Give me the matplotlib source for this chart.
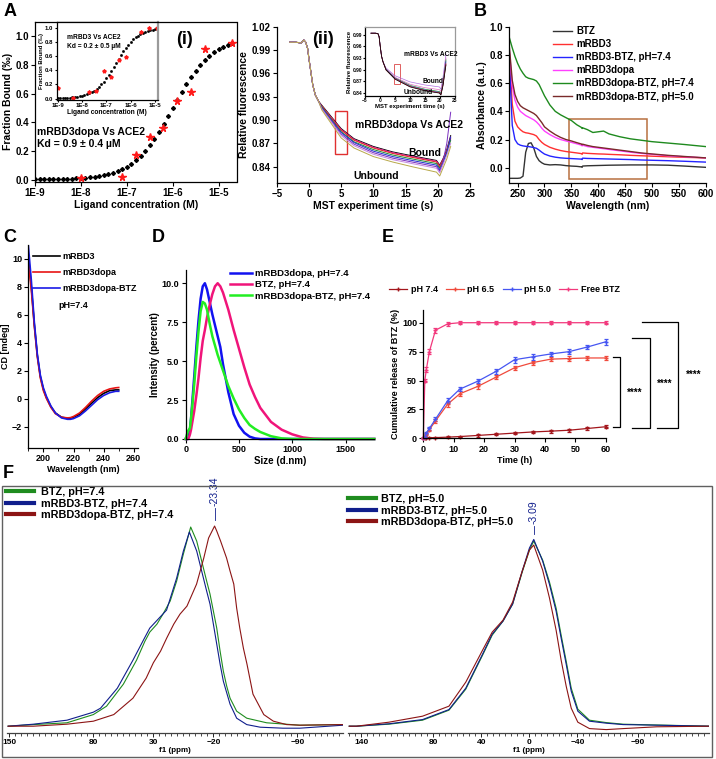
#!/usr/bin/env python3
"""Six-panel figure: MST binding (A), UV-vis (B), CD (C), DLS (D), release (E), 11B NMR (F)."""
import numpy as np
import matplotlib
matplotlib.use("Agg")
import matplotlib.pyplot as plt
from matplotlib.lines import Line2D
from matplotlib.patches import Rectangle
from matplotlib.ticker import FixedLocator, MultipleLocator, NullLocator, FormatStrFormatter

W, H = 716, 759

plt.rcParams.update({
    "font.family": ["Liberation Sans", "DejaVu Sans"],
    "font.weight": "bold",
    "axes.labelweight": "bold",
    "axes.linewidth": 0.9,
    "xtick.direction": "out",
    "ytick.direction": "out",
    "xtick.major.size": 3,
    "ytick.major.size": 3,
    "xtick.major.width": 0.8,
    "ytick.major.width": 0.8,
    "xtick.major.pad": 1.5,
    "ytick.major.pad": 1.5,
    "axes.labelpad": 1.5,
})

# ---------------- data ----------------
# A(i) main: mRBD3dopa vs ACE2 (log10 concentration)
A_FIT_EXP = [-9.0, -8.9, -8.8, -8.7, -8.6, -8.5, -8.4, -8.3, -8.2, -8.1, -8.0, -7.9, -7.8,
             -7.7, -7.6, -7.5, -7.4, -7.3, -7.2, -7.1, -7.0, -6.9, -6.8, -6.7, -6.6, -6.5,
             -6.4, -6.3, -6.2, -6.1, -6.0, -5.9, -5.8, -5.7, -5.6, -5.5, -5.4, -5.3, -5.2,
             -5.1, -5.0, -4.9, -4.8, -4.7]
A_FIT_Y = [0.001, 0.001, 0.002, 0.002, 0.003, 0.003, 0.004, 0.005, 0.006, 0.008, 0.010,
           0.012, 0.016, 0.020, 0.025, 0.031, 0.038, 0.048, 0.059, 0.074, 0.091, 0.112,
           0.137, 0.166, 0.201, 0.240, 0.285, 0.334, 0.387, 0.443, 0.500, 0.557, 0.613,
           0.666, 0.715, 0.760, 0.799, 0.834, 0.863, 0.888, 0.909, 0.926, 0.941, 0.952]
A_PTS_EXP = [-8.0, -7.1, -6.81, -6.5, -6.21, -5.9, -5.6, -5.29, -4.7]
A_PTS_Y = [0.01, 0.02, 0.17, 0.30, 0.36, 0.55, 0.61, 0.91, 0.95]

# A(i) inset: mRBD3 vs ACE2
AI_FIT_EXP = [-9.0, -8.9, -8.8, -8.7, -8.6, -8.5, -8.4, -8.3, -8.2, -8.1, -8.0, -7.9, -7.8,
              -7.7, -7.6, -7.5, -7.4, -7.3, -7.2, -7.1, -7.0, -6.9, -6.8, -6.7, -6.6, -6.5,
              -6.4, -6.3, -6.2, -6.1, -6.0, -5.9, -5.8, -5.7, -5.6, -5.5, -5.4, -5.3, -5.2,
              -5.1, -5.0]
AI_FIT_Y = [0.004, 0.005, 0.006, 0.008, 0.010, 0.012, 0.016, 0.020, 0.025, 0.031, 0.038,
            0.048, 0.059, 0.074, 0.091, 0.112, 0.137, 0.166, 0.201, 0.240, 0.285, 0.334,
            0.387, 0.443, 0.500, 0.557, 0.613, 0.666, 0.715, 0.760, 0.799, 0.834, 0.863,
            0.888, 0.909, 0.926, 0.941, 0.952, 0.962, 0.969, 0.975]
AI_PTS_EXP = [-9.0, -8.38, -7.73, -7.42, -7.11, -6.8, -6.49, -6.19, -5.58, -5.25, -4.93]
AI_PTS_Y = [0.155, 0.01, 0.09, 0.10, 0.39, 0.30, 0.55, 0.59, 0.94, 0.99, 1.0]

# A(ii) MST traces: shared start, then one tail per capillary
MST_T_HEAD = [-3, -2, -1.2, -0.8, -0.5, -0.2, 0.0, 0.3, 0.6, 1.0, 1.5]
MST_Y_HEAD = [1.000, 1.000, 0.999, 1.003, 1.000, 0.992, 0.979, 0.962, 0.945, 0.932, 0.924]
MST_T_TAIL = [2, 3, 5, 7, 10, 13, 16, 19.8, 20.3, 20.8, 21.4, 22]
MST_TAILS = [
    [0.919, 0.909, 0.889, 0.876, 0.866, 0.859, 0.854, 0.848, 0.842, 0.850, 0.862, 0.880],
    [0.918, 0.908, 0.888, 0.875, 0.865, 0.858, 0.853, 0.847, 0.841, 0.849, 0.860, 0.878],
    [0.918, 0.907, 0.887, 0.874, 0.864, 0.857, 0.852, 0.846, 0.840, 0.848, 0.860, 0.876],
    [0.917, 0.906, 0.885, 0.872, 0.862, 0.855, 0.850, 0.844, 0.838, 0.846, 0.858, 0.874],
    [0.916, 0.905, 0.884, 0.871, 0.860, 0.853, 0.848, 0.842, 0.836, 0.845, 0.858, 0.878],
    [0.915, 0.904, 0.882, 0.869, 0.858, 0.851, 0.846, 0.840, 0.834, 0.846, 0.870, 0.910],
    [0.914, 0.903, 0.880, 0.867, 0.856, 0.849, 0.844, 0.838, 0.832, 0.842, 0.855, 0.870],
    [0.913, 0.901, 0.877, 0.864, 0.853, 0.846, 0.840, 0.833, 0.828, 0.838, 0.850, 0.866],
]
MST_COLORS = ["black", "#e0209a", "#e02020", "#208a30", "#2030d0", "#7a2ec0", "#c58ae0", "#b8a84a"]

MSTI_T_HEAD = [-3, -1.5, -0.7, -0.3, 0.0, 0.5, 1.0]
MSTI_Y_HEAD = [0.994, 0.994, 0.993, 0.985, 0.965, 0.935, 0.920]
MSTI_T_TAIL = [2, 5, 10, 15, 19.8, 20.3, 21, 22]
MSTI_TAILS = [
    [0.904, 0.884, 0.868, 0.860, 0.855, 0.849, 0.880, 0.940],
    [0.902, 0.880, 0.862, 0.853, 0.848, 0.843, 0.870, 0.930],
    [0.901, 0.878, 0.859, 0.849, 0.843, 0.838, 0.865, 0.925],
    [0.900, 0.877, 0.857, 0.847, 0.841, 0.836, 0.862, 0.920],
    [0.899, 0.876, 0.856, 0.846, 0.840, 0.835, 0.860, 0.915],
    [0.899, 0.875, 0.855, 0.845, 0.839, 0.834, 0.858, 0.912],
]
MSTI_COLORS = ["#b070e0", "#e070c0", "#208a30", "#2030d0", "#e02020", "black"]

# B: UV-vis absorbance
B_WL = [234, 240, 245, 250, 255, 260, 265, 270, 275, 280, 285, 290, 295, 300, 310, 320, 330,
        340, 350, 360, 369, 370, 371, 380, 390, 400, 410, 420, 440, 460, 480, 500, 530, 560, 600]
B_BTZ = [-0.075, -0.075, -0.075, -0.075, -0.073, -0.06, 0.11, 0.172, 0.177, 0.14, 0.08, 0.05,
         0.035, 0.025, 0.02, 0.022, 0.02, 0.015, 0.012, 0.01, 0.006, 0.003, 0.012, 0.014, 0.015,
         0.016, 0.017, 0.018, 0.019, 0.02, 0.02, 0.02, 0.018, 0.012, 0.003]
B_RBD3 = [0.85, 0.45, 0.33, 0.29, 0.27, 0.255, 0.248, 0.245, 0.24, 0.235, 0.225, 0.2, 0.18,
          0.165, 0.145, 0.132, 0.122, 0.115, 0.11, 0.105, 0.1, 0.095, 0.105, 0.102, 0.1, 0.098,
          0.097, 0.095, 0.092, 0.088, 0.085, 0.082, 0.078, 0.074, 0.07]
B_RBD3_BTZ = [0.80, 0.3, 0.2, 0.17, 0.16, 0.155, 0.152, 0.15, 0.147, 0.143, 0.138, 0.125, 0.11,
              0.097, 0.083, 0.075, 0.07, 0.067, 0.065, 0.063, 0.061, 0.058, 0.068, 0.066, 0.065,
              0.064, 0.063, 0.062, 0.06, 0.058, 0.055, 0.053, 0.05, 0.046, 0.04]
B_DOPA = [0.86, 0.58, 0.48, 0.43, 0.40, 0.385, 0.37, 0.36, 0.35, 0.34, 0.325, 0.305, 0.28, 0.26,
          0.235, 0.215, 0.2, 0.19, 0.18, 0.17, 0.16, 0.155, 0.16, 0.15, 0.145, 0.14, 0.135, 0.13,
          0.12, 0.11, 0.102, 0.095, 0.085, 0.078, 0.07]
B_DOPA_BTZ74 = [0.93, 0.85, 0.79, 0.74, 0.70, 0.67, 0.645, 0.635, 0.63, 0.625, 0.615, 0.59, 0.55,
                0.51, 0.445, 0.40, 0.375, 0.355, 0.335, 0.305, 0.285, 0.278, 0.283, 0.27, 0.25,
                0.255, 0.26, 0.24, 0.22, 0.205, 0.195, 0.185, 0.175, 0.165, 0.15]
B_DOPA_BTZ50 = [0.88, 0.62, 0.52, 0.47, 0.44, 0.425, 0.415, 0.405, 0.395, 0.385, 0.37, 0.345,
                0.32, 0.29, 0.26, 0.235, 0.215, 0.2, 0.19, 0.178, 0.168, 0.163, 0.167, 0.158,
                0.15, 0.145, 0.14, 0.135, 0.125, 0.115, 0.105, 0.098, 0.088, 0.08, 0.07]
B_LABELS = ["BTZ", "mRBD3", "mRBD3-BTZ, pH=7.4", "mRBD3dopa", "mRBD3dopa-BTZ, pH=7.4",
            "mRBD3dopa-BTZ, pH=5.0"]
B_COLORS = ["#333333", "#ff3030", "#2424ff", "#ff40ff", "#1e8a1e", "#7a2a2a"]

# C: circular dichroism
C_WL = [190, 192, 194, 196, 198, 200, 202, 205, 208, 212, 216, 218, 220, 224, 228, 232, 236,
        240, 244, 248, 250]
C_RBD3 = [10.3, 8.0, 5.3, 3.1, 1.6, 0.7, 0.1, -0.55, -1.0, -1.3, -1.38, -1.37, -1.3, -1.1, -0.7,
          -0.3, 0.1, 0.4, 0.6, 0.65, 0.65]
C_DOPA = [9.8, 7.8, 5.2, 3.0, 1.5, 0.6, 0.05, -0.6, -1.05, -1.3, -1.35, -1.33, -1.25, -1.0, -0.6,
          -0.15, 0.25, 0.55, 0.72, 0.8, 0.82]
C_DOPA_BTZ = [11.0, 8.5, 5.5, 3.2, 1.7, 0.8, 0.2, -0.5, -1.0, -1.35, -1.45, -1.45, -1.4, -1.2,
              -0.85, -0.45, -0.05, 0.25, 0.45, 0.55, 0.55]

# D: DLS size distributions
D_SIZE = [0, 20, 30, 40, 50, 60, 80, 100, 120, 140, 160, 180, 200, 225, 250, 275, 300, 325, 350,
          400, 450, 500, 550, 600, 650, 700, 800, 900, 1000, 1100, 1200, 1300, 1770]
D_DOPA = [0, 0, 0.2, 0.6, 1.3, 2.2, 4.0, 5.9, 7.6, 9.0, 9.8, 10.0, 9.6, 8.8, 8.0, 7.3, 6.6, 5.9,
          4.8, 3.0, 1.6, 0.85, 0.4, 0.15, 0.04, 0, 0, 0, 0, 0, 0, 0, 0]
D_BTZ = [0, 0, 0.1, 0.3, 0.6, 1.0, 1.8, 2.8, 3.9, 5.2, 6.3, 7.0, 7.8, 8.6, 9.3, 9.8, 10.0, 9.8,
         9.4, 8.3, 7.0, 5.8, 4.6, 3.5, 2.7, 2.0, 1.1, 0.6, 0.3, 0.1, 0.02, 0, 0]
D_DOPA_BTZ = [0, 0.5, 0.6, 0.7, 1.3, 2.0, 3.5, 5.3, 6.9, 8.2, 8.8, 8.7, 8.3, 7.4, 6.6, 6.0, 5.4,
              4.9, 4.4, 3.4, 2.6, 1.9, 1.35, 0.9, 0.65, 0.45, 0.18, 0.04, 0, 0, 0, 0, 0]

# E: cumulative BTZ release
E_T = [0, 0.5, 1, 2, 4, 8, 12, 18, 24, 30, 36, 42, 48, 54, 60]
E_PH74 = [0, 0.3, 0.5, 0.5, 0.6, 1.0, 1.5, 2.5, 3.5, 4.5, 5.5, 6.2, 7.0, 8.5, 10.0]
E_PH65 = [0, 1.0, 4.0, 7.5, 15.0, 29.5, 38.5, 45.0, 53.0, 61.0, 65.5, 68.5, 69.0, 69.5, 69.5]
E_PH50 = [0, 1.5, 4.5, 8.5, 16.5, 32.5, 42.5, 49.5, 58.0, 68.0, 70.5, 73.0, 75.0, 79.0, 83.5]
E_FREE = [0, 50.0, 59.5, 75.0, 93.5, 99.0, 100, 100, 100, 100, 100, 100, 100, 100, 100]
E_ERR74 = [0, 0.3, 0.5, 0.5, 0.5, 0.8, 0.8, 1.0, 1.0, 1.2, 1.2, 1.2, 1.2, 1.5, 1.5]
E_ERR65 = [0, 0.8, 1.0, 1.2, 1.5, 2.0, 2.0, 2.0, 2.0, 1.8, 1.8, 1.8, 1.8, 1.8, 1.8]
E_ERR50 = [0, 0.8, 1.0, 1.2, 1.5, 2.0, 2.0, 2.0, 2.2, 2.5, 2.5, 2.0, 2.0, 2.0, 2.5]
E_ERRFREE = [0, 1.5, 2.0, 2.0, 2.0, 2.0, 1.5, 1.5, 1.2, 1.2, 1.2, 1.2, 1.2, 1.5, 1.2]
E_LABELS = ["pH 7.4", "pH 6.5", "pH 5.0", "Free BTZ"]
E_COLORS = ["#a3161c", "#f04a3c", "#4656f2", "#f2387c"]

# F: NMR spectra (normalised intensity vs ppm)
F74_GREEN_PPM = [151, 130, 102, 80, 69, 55, 44, 37, 33, 27, 22, 16, 10.6, 5, -1.1, -6.1, -11.7,
                 -14.4, -17.2, -22.8, -25.6, -28.3, -31.1, -33.9, -39.4, -47.8, -64.4, -92, -128]
F74_GREEN = [0.0, 0.008, 0.017, 0.058, 0.10, 0.21, 0.33, 0.425, 0.47, 0.51, 0.56, 0.625, 0.725,
             0.86, 0.995, 0.925, 0.79, 0.725, 0.66, 0.49, 0.375, 0.275, 0.2, 0.14, 0.075, 0.04,
             0.017, 0.005, 0.008]
F74_BLUE_PPM = [151, 130, 102, 80, 74, 60, 47, 38.3, 33, 19, 10.6, 5, 0, -6.1, -11.7, -14.4,
                -17.2, -22.8, -25.6, -28.3, -31.1, -33.9, -39.4, -47.8, -59, -78, -92, -128]
F74_BLUE = [0.0, 0.01, 0.03, 0.07, 0.09, 0.19, 0.33, 0.43, 0.49, 0.58, 0.74, 0.875, 0.97, 0.875,
            0.74, 0.675, 0.61, 0.41, 0.31, 0.225, 0.167, 0.11, 0.04, 0.008, -0.005, -0.01,
            -0.01, 0.005]
F74_RED_PPM = [151, 130, 102, 80, 63, 47, 36, 30, 24, 18.9, 13, 7.8, 2, -6, -12, -16, -21,
               -22.8, -26, -31, -33.9, -37, -39.4, -42, -45, -48, -53, -62, -70, -81, -92, -128]
F74_RED = [0.0, 0.0, 0.01, 0.025, 0.058, 0.14, 0.24, 0.317, 0.375, 0.44, 0.51, 0.56, 0.6, 0.71,
           0.84, 0.94, 1.0, 0.975, 0.925, 0.84, 0.775, 0.71, 0.59, 0.49, 0.39, 0.31, 0.16,
           0.058, 0.025, 0.008, 0.005, 0.008]
F50_PPM = [150, 144, 117, 89, 67, 53, 39, 31, 22, 14, 6, 0, -3.6, -11, -16.7, -22.2, -26.4,
           -30.6, -34.8, -40.3, -50, -64, -78, -106, -150]
F50_GREEN = [0.0, 0.0, 0.01, 0.03, 0.08, 0.185, 0.355, 0.455, 0.525, 0.61, 0.77, 0.88, 0.925,
             0.83, 0.72, 0.59, 0.455, 0.325, 0.19, 0.085, 0.03, 0.018, 0.01, 0.006, 0.0]
F50_BLUE = [0.0, 0.0, 0.012, 0.033, 0.083, 0.19, 0.36, 0.46, 0.525, 0.61, 0.775, 0.89, 0.933,
            0.825, 0.708, 0.575, 0.44, 0.31, 0.175, 0.075, 0.025, 0.015, 0.008, 0.005, 0.0]
F50_RED = [0.0, 0.0, 0.02, 0.05, 0.1, 0.22, 0.38, 0.47, 0.53, 0.62, 0.775, 0.88, 0.905, 0.78,
           0.64, 0.48, 0.33, 0.2, 0.09, 0.02, -0.012, -0.017, -0.012, -0.003, 0.0]
F_GREEN, F_BLUE, F_RED = "#1f8c1f", "#101e8c", "#8c1414"


fig = plt.figure(figsize=(W / 100, H / 100), dpi=100)


def place(l, t, r, b):
    """Axes from pixel edges (left, top, right, bottom) of the 716x759 canvas."""
    return fig.add_axes([l / W, 1 - b / H, (r - l) / W, (b - t) / H])


def ftext(x, y, s, **kw):
    fig.text(x / W, 1 - y / H, s, **kw)


def prism(ax, size=7):
    ax.spines["top"].set_visible(False)
    ax.spines["right"].set_visible(False)
    ax.tick_params(labelsize=size)


# ---------------- A(i) ----------------
ax = place(35, 22, 236.5, 181.7)
ax.set_xscale("log")
ax.plot(10.0 ** np.array(A_FIT_EXP), A_FIT_Y, "D", color="black", ms=2.0, ls="none")
ax.plot(10.0 ** np.array(A_PTS_EXP), A_PTS_Y, "*", color="#ff1a1a", ms=5.5, ls="none")
ax.set_xlim(10 ** -9, 10 ** -4.61)
ax.set_ylim(-0.015, 1.10)
ax.xaxis.set_major_locator(FixedLocator([1e-9, 1e-8, 1e-7, 1e-6, 1e-5]))
ax.xaxis.set_minor_locator(NullLocator())
ax.set_xticklabels(["1E-9", "1E-8", "1E-7", "1E-6", "1E-5"])
ax.set_yticks([0, 0.2, 0.4, 0.6, 0.8, 1.0])
ax.tick_params(labelsize=7)
ax.set_xlabel("Ligand concentration (M)", fontsize=7.5)
ax.set_ylabel("Fraction Bound (‰)", fontsize=7.5)
ax.text(10 ** -5.74, 0.98, "(i)", fontsize=13, ha="center", va="center")
ax.text(10 ** -8.96, 0.33, "mRBD3dopa Vs ACE2", fontsize=7.5, va="center")
ax.text(10 ** -8.96, 0.245, "Kd = 0.9 ± 0.4 µM", fontsize=7.5, va="center")

axi = place(56.7, 22, 157.7, 100)
axi.set_xscale("log")
axi.plot(10.0 ** np.array(AI_FIT_EXP), AI_FIT_Y, "s", color="black", ms=0.9, ls="none")
axi.plot(10.0 ** np.array(AI_PTS_EXP), AI_PTS_Y, "*", color="#ff1a1a", ms=2.8, ls="none")
axi.set_xlim(10 ** -9.04, 10 ** -4.89)
axi.set_ylim(-0.02, 1.08)
axi.xaxis.set_major_locator(FixedLocator([1e-9, 1e-8, 1e-7, 1e-6, 1e-5]))
axi.xaxis.set_minor_locator(NullLocator())
axi.set_xticklabels(["1E-9", "1E-8", "1E-7", "1E-6", "1E-5"])
axi.set_yticks([0, 0.2, 0.4, 0.6, 0.8, 1.0])
axi.tick_params(labelsize=4.3, length=1.5, pad=0.8)
axi.set_xlabel("Ligand concentration (M)", fontsize=4.8, labelpad=0.5)
axi.set_ylabel("Fraction Bound (‰)", fontsize=4.3, labelpad=0.5)
axi.spines["right"].set_color("#9a9a9a")
axi.spines["right"].set_linewidth(1.6)
axi.text(10 ** -8.6, 0.86, "mRBD3 Vs ACE2", fontsize=4.8, va="center")
axi.text(10 ** -8.6, 0.74, "Kd = 0.2 ± 0.5 µM", fontsize=4.8, va="center")

# ---------------- A(ii) ----------------
ax = place(276.7, 26.7, 470, 182.7)
for tail, c in zip(MST_TAILS, MST_COLORS):
    ax.plot(MST_T_HEAD + MST_T_TAIL, MST_Y_HEAD + tail, color=c, lw=0.7)
ax.set_xlim(-5, 25)
ax.set_ylim(0.8194, 1.02)
ax.set_xticks([-5, 0, 5, 10, 15, 20, 25])
ax.set_yticks([0.84, 0.87, 0.90, 0.93, 0.96, 0.99, 1.02])
prism(ax, 7)
ax.set_xlabel("MST experiment time (s)", fontsize=7.5)
ax.set_ylabel("Relative fluorescence", fontsize=7.5)
ax.add_patch(Rectangle((4.05, 0.856), 1.85, 0.055, fill=False, ec="#e03030", lw=1))
ax.text(2.2, 1.003, "(ii)", fontsize=13, ha="center", va="center")
ax.text(7.15, 0.8936, "mRBD3dopa Vs ACE2", fontsize=7.5, va="center")
ax.text(18.0, 0.858, "Bound", fontsize=7.5, ha="center", va="center")
ax.text(10.5, 0.828, "Unbound", fontsize=7.5, ha="center", va="center")

axi = place(365, 27, 455, 96)
for tail, c in zip(MSTI_TAILS, MSTI_COLORS):
    axi.plot(MSTI_T_HEAD + MSTI_T_TAIL, MSTI_Y_HEAD + tail, color=c, lw=0.5)
axi.set_xlim(-5, 25)
axi.set_ylim(0.8315, 1.01)
axi.set_xticks([-5, 0, 5, 10, 15, 20, 25])
axi.set_yticks([0.84, 0.87, 0.90, 0.93, 0.96, 0.99])
axi.tick_params(labelsize=3.5, length=1.2, pad=0.6)
for s in ("top", "right"):
    axi.spines[s].set_color("#9a9a9a")
axi.set_xlabel("MST experiment time (s)", fontsize=4.3, labelpad=0.3)
axi.set_ylabel("Relative fluorescence", fontsize=4.3, labelpad=0.5)
axi.add_patch(Rectangle((4.6, 0.863), 2.2, 0.052, fill=False, ec="#e06060", lw=0.7))
axi.text(8.0, 0.939, "mRBD3 Vs ACE2", fontsize=4.8, va="center")
axi.text(14.3, 0.87, "Bound", fontsize=4.8, va="center")
axi.text(8.0, 0.841, "Unbound", fontsize=4.8, va="center")

# ---------------- B ----------------
ax = place(509.3, 26.7, 705.7, 182.7)
for ys, c, lab in zip([B_BTZ, B_RBD3, B_RBD3_BTZ, B_DOPA, B_DOPA_BTZ74, B_DOPA_BTZ50],
                      B_COLORS, B_LABELS):
    ax.plot(B_WL, ys, color=c, lw=1.0, label=lab)
ax.set_xlim(234.5, 600)
ax.set_ylim(-0.106, 1.0)
ax.set_xticks([250, 300, 350, 400, 450, 500, 550, 600])
ax.set_yticks([0.0, 0.2, 0.4, 0.6, 0.8, 1.0])
prism(ax, 7)
ax.set_xlabel("Wavelength (nm)", fontsize=7.5)
ax.set_ylabel("Absorbance (a.u.)", fontsize=7.5)
ax.add_patch(Rectangle((345.6, -0.08), 144.4, 0.425, fill=False, ec="#b87040", lw=1.1))
ax.legend(loc="upper left", bbox_to_anchor=(553 / W, 1 - 26 / H), bbox_transform=fig.transFigure,
          frameon=False, fontsize=7, handlelength=2.0, handletextpad=0.4, labelspacing=0.32,
          borderpad=0, borderaxespad=0)

# ---------------- C ----------------
ax = place(28.3, 245, 138.3, 448)
ax.plot(C_WL, C_RBD3, color="black", lw=1.2, label="mRBD3")
ax.plot(C_WL, C_DOPA, color="#e81414", lw=1.2, label="mRBD3dopa")
ax.plot(C_WL, C_DOPA_BTZ, color="#1a1ae6", lw=1.2, label="mRBD3dopa-BTZ")
ax.set_xlim(190, 263)
ax.set_ylim(-3.5, 11)
ax.set_xticks([200, 220, 240, 260])
ax.xaxis.set_minor_locator(MultipleLocator(10))
ax.tick_params(which="minor", length=2)
ax.set_yticks([-2, 0, 2, 4, 6, 8, 10])
prism(ax, 6.5)
ax.set_xlabel("Wavelength (nm)", fontsize=6.5)
ax.set_ylabel("CD [mdeg]", fontsize=6.5)
ax.legend(loc="upper left", bbox_to_anchor=(33 / W, 1 - 252 / H), bbox_transform=fig.transFigure,
          frameon=False, fontsize=6.5, handlelength=3.0, handletextpad=0.3, labelspacing=0.8,
          borderpad=0, borderaxespad=0)
ftext(58, 306, "pH=7.4", fontsize=6.5, va="center")

# ---------------- D ----------------
ax = place(185.7, 270, 374.3, 439)
ax.plot(D_SIZE, D_DOPA, color="#1212f0", lw=1.8, label="mRBD3dopa, pH=7.4")
ax.plot(D_SIZE, D_BTZ, color="#f0147a", lw=1.8, label="BTZ, pH=7.4")
ax.plot(D_SIZE, D_DOPA_BTZ, color="#22ee22", lw=1.8, label="mRBD3dopa-BTZ, pH=7.4")
ax.set_xlim(0, 1770)
ax.set_ylim(0, 10.85)
ax.set_xticks([0, 500, 1000, 1500])
ax.set_yticks([0.0, 2.5, 5.0, 7.5, 10.0])
ax.yaxis.set_major_formatter(FormatStrFormatter("%.1f"))
prism(ax, 6.5)
for ln in ax.lines:
    ln.set_clip_on(False)
ax.set_xlabel("Size (d.nm)", fontsize=7)
ax.set_ylabel("Intensity (percent)", fontsize=7)
ax.legend(loc="upper left", bbox_to_anchor=(230 / W, 1 - 269 / H), bbox_transform=fig.transFigure,
          frameon=False, fontsize=6.8, handlelength=2.3, handletextpad=0.3, labelspacing=0.25,
          borderpad=0, borderaxespad=0)

# ---------------- E ----------------
ax = place(423.3, 310, 605.7, 438.3)
handles = []
for ys, err, c, lab in zip([E_PH74, E_PH65, E_PH50, E_FREE],
                           [E_ERR74, E_ERR65, E_ERR50, E_ERRFREE], E_COLORS, E_LABELS):
    ax.errorbar(E_T, ys, yerr=err, color=c, lw=0.9, elinewidth=0.9, capsize=1.5,
                capthick=0.9, marker="+", ms=2.5, clip_on=False)
    handles.append(Line2D([], [], color=c, lw=0.9, marker="+", ms=3, label=lab))
ax.set_xlim(0, 60)
ax.set_ylim(0, 111)
ax.set_xticks([0, 10, 20, 30, 40, 50, 60])
ax.set_yticks([0, 25, 50, 75, 100])
prism(ax, 6.5)
ax.set_xlabel("Time (h)", fontsize=6.5)
ax.set_ylabel("Cumulative release of BTZ (%)", fontsize=6.5)
ax.legend(handles=handles, loc="center left", bbox_to_anchor=(389 / W, 1 - 290 / H),
          bbox_transform=fig.transFigure, frameon=False, fontsize=6.5, ncol=4,
          handlelength=2.0, handletextpad=0.4, columnspacing=0.9, borderpad=0, borderaxespad=0)
# significance brackets
for xs, ys, tx, ty in [([62.4, 64.6, 64.6, 62.4], [70, 70, 10, 10], 69.6, 39.5),
                       ([68.6, 74.6, 74.6, 68.6], [86.5, 86.5, 9.2, 9.2], 79.5, 47),
                       ([71.8, 83.9, 83.9, 76.8], [100.3, 100.3, 9.2, 9.2], 88.8, 55)]:
    ax.plot(xs, ys, color="black", lw=0.9, clip_on=False)
    ax.text(tx, ty, "****", fontsize=7, ha="center", va="center")

# ---------------- F ----------------
fig.add_artist(Rectangle((2 / W, 1 - 757 / H), 710 / W, 271 / H, transform=fig.transFigure,
                         fill=False, ec="#606060", lw=1.0))


def nmr_axes(l, r, xlim, labels):
    a = place(l, 486, r, 733)
    a.set_xlim(*xlim)
    a.set_ylim(-0.034, 1.2)
    for s in ("top", "left", "right"):
        a.spines[s].set_visible(False)
    a.spines["bottom"].set_color("#404040")
    a.set_yticks([])
    a.xaxis.set_major_locator(FixedLocator(labels))
    a.xaxis.set_minor_locator(MultipleLocator(5))
    a.tick_params(axis="x", labelsize=6, length=3, width=0.6, pad=1.5)
    a.tick_params(axis="x", which="minor", length=1.8, width=0.5)
    a.set_xlabel("f1 (ppm)", fontsize=5.8, labelpad=0.5)
    a.patch.set_alpha(0)
    return a


ax = nmr_axes(6.7, 343, (152.2, -128), [150, 80, 30, -20, -90])
ax.plot(F74_GREEN_PPM, F74_GREEN, color=F_GREEN, lw=0.8, label="BTZ, pH=7.4")
ax.plot(F74_BLUE_PPM, F74_BLUE, color=F_BLUE, lw=0.8, label="mRBD3-BTZ, pH=7.4")
ax.plot(F74_RED_PPM, F74_RED, color=F_RED, lw=0.8, label="mRBD3dopa-BTZ, pH=7.4")
ax.plot([-21, -21], [1.03, 1.09], color=F_BLUE, lw=0.6)
ax.text(-21, 1.10, "-23.34", rotation=90, fontsize=7.5, color=F_BLUE, fontweight="normal",
        ha="center", va="bottom")
leg = ax.legend(loc="upper left", bbox_to_anchor=(6 / W, 1 - 487 / H),
                bbox_transform=fig.transFigure, frameon=False, fontsize=7.8, handlelength=2.6,
                handletextpad=0.6, labelspacing=0.15, borderpad=0, borderaxespad=0)
for ln in leg.get_lines():
    ln.set_linewidth(3)

ax = nmr_axes(347.7, 709.3, (151.3, -149.75), [140, 80, 40, 0, -40, -90])
ax.plot(F50_PPM, F50_GREEN, color=F_GREEN, lw=0.8, label="BTZ, pH=5.0")
ax.plot(F50_PPM, F50_BLUE, color=F_BLUE, lw=0.8, label="mRBD3-BTZ, pH=5.0")
ax.plot(F50_PPM, F50_RED, color=F_RED, lw=0.8, label="mRBD3dopa-BTZ, pH=5.0")
ax.plot([-3.6, -3.6], [0.96, 1.0], color=F_BLUE, lw=0.6)
ax.text(-3.6, 1.01, "-3.09", rotation=90, fontsize=7.5, color=F_BLUE, fontweight="normal",
        ha="center", va="bottom")
leg = ax.legend(loc="upper left", bbox_to_anchor=(348 / W, 1 - 494 / H),
                bbox_transform=fig.transFigure, frameon=False, fontsize=7.8, handlelength=2.6,
                handletextpad=0.45, labelspacing=0.15, borderpad=0, borderaxespad=0)
for ln in leg.get_lines():
    ln.set_linewidth(3)

# ---------------- panel letters ----------------
for letter, x, y in [("A", 10, 12), ("B", 480, 12), ("C", 10, 238), ("D", 158, 238),
                     ("E", 388, 238), ("F", 8, 474)]:
    ftext(x, y, letter, fontsize=13, ha="center", va="center")

fig.savefig("out.png", dpi=100, facecolor="white")
